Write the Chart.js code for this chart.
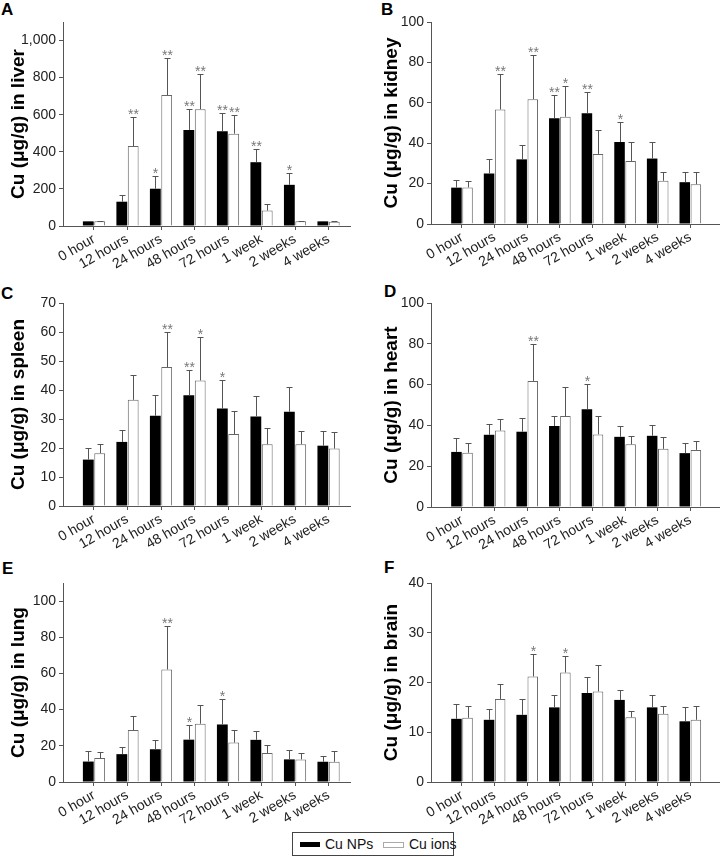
<!DOCTYPE html>
<html>
<head>
<meta charset="utf-8">
<script src="https://cdn.jsdelivr.net/npm/chart.js@4.4.1/dist/chart.umd.min.js"></script>
<style>
  body { margin: 0; width: 720px; height: 857px; position: relative; overflow: hidden; background: #fff;
         font-family: "Liberation Sans", Arial, sans-serif; }
  canvas { position: absolute; }
  .tag { position: absolute; font-weight: bold; font-size: 17px; line-height: 17px; color: #000; }
  .legend { position: absolute; left: 292px; top: 832px; width: 160px; height: 22px; border: 1px solid #444; font-size: 14px; color: #111; }
  .legend span { position: absolute; white-space: nowrap; }
  .sw { height: 5px; top: 9px; width: 20px; }
</style>
</head>
<body>
<div class="tag" style="left:1px;top:1px">A</div>
<div class="tag" style="left:381px;top:1px">B</div>
<div class="tag" style="left:1px;top:285px">C</div>
<div class="tag" style="left:384px;top:283px">D</div>
<div class="tag" style="left:2px;top:560px">E</div>
<div class="tag" style="left:384px;top:559px">F</div>

<div class="legend">
  <span class="sw" style="left:7px;background:#000"></span>
  <span style="left:32px;top:3px">Cu NPs</span>
  <span class="sw" style="left:90px;background:#fff;border:1px solid #aaa;width:19px;height:4px"></span>
  <span style="left:116px;top:3px">Cu ions</span>
</div>

<script>
const timeLabels = ['0 hour', '12 hours', '24 hours', '48 hours', '72 hours', '1 week', '2 weeks', '4 weeks'];

// A - liver
const liverNp = [25, 131, 201, 518, 511, 344, 222, 25];
const liverNpErr = [4, 38, 69, 112, 100, 71, 63, 3];
const liverIon = [25, 431, 706, 630, 498, 83, 25, 23];
const liverIonErr = [3, 155, 199, 190, 98, 36, 3, 3];
const liverNpSig = ['', '', '*', '**', '**', '**', '*', ''];
const liverIonSig = ['', '**', '**', '**', '**', '', '', ''];
const liverTicks = [0, 200, 400, 600, 800, 1000];

// B - kidney
const kidneyNp = [18, 25, 32, 52.3, 54.8, 40.6, 32.4, 20.7];
const kidneyNpErr = [3.7, 7.2, 7, 11.7, 10.3, 10.1, 8.4, 5];
const kidneyIon = [18.1, 56.7, 61.8, 53.1, 34.7, 31.2, 21.4, 19.7];
const kidneyIonErr = [3.4, 17.8, 22.1, 15.2, 11.8, 9.6, 4.3, 6];
const kidneyNpSig = ['', '', '', '**', '**', '*', '', ''];
const kidneyIonSig = ['', '**', '**', '*', '', '', '', ''];
const kidneyTicks = [0, 20, 40, 60, 80, 100];

// C - spleen
const spleenNp = [16, 22.1, 31.1, 38.2, 33.6, 30.9, 32.5, 20.8];
const spleenNpErr = [3.9, 4.1, 7.1, 8.8, 9.8, 6.9, 8.4, 4.9];
const spleenIon = [18.2, 36.6, 47.9, 43.3, 24.8, 21.3, 21.3, 19.8];
const spleenIonErr = [3.2, 8.6, 12, 15, 8, 5.5, 4.4, 5.6];
const spleenNpSig = ['', '', '', '**', '*', '', '', ''];
const spleenIonSig = ['', '', '**', '*', '', '', '', ''];
const spleenTicks = [0, 10, 20, 30, 40, 50, 60, 70];

// D - heart
const heartNp = [27, 35.4, 36.9, 39.7, 47.9, 34.4, 34.9, 26.4];
const heartNpErr = [6.6, 5.1, 6.5, 4.9, 12.4, 5.1, 5.3, 5.2];
const heartIon = [26.6, 37.5, 61.8, 44.6, 35.6, 30.7, 28.5, 28];
const heartIonErr = [4.9, 5.8, 18.2, 14.4, 9, 4.1, 5.9, 4.3];
const heartNpSig = ['', '', '', '', '*', '', '', ''];
const heartIonSig = ['', '', '**', '', '', '', '', ''];
const heartTicks = [0, 20, 40, 60, 80, 100];

// E - lung
const lungNp = [11.3, 15.4, 18.1, 23.4, 31.8, 23.3, 12.5, 11.2];
const lungNpErr = [5.9, 3.8, 5.3, 7.9, 13.9, 5, 5.3, 2.9];
const lungIon = [13.2, 28.7, 62.2, 32.2, 21.8, 16, 12.5, 11.2];
const lungIonErr = [3.3, 8, 24.3, 10.6, 6.7, 4.7, 3.5, 6];
const lungNpSig = ['', '', '', '*', '*', '', '', ''];
const lungIonSig = ['', '', '**', '', '', '', '', ''];
const lungTicks = [0, 20, 40, 60, 80, 100];

// F - brain
const brainNp = [12.7, 12.5, 13.5, 15, 17.9, 16.5, 15, 12.2];
const brainNpErr = [3, 2.2, 3.2, 2.4, 3.3, 1.9, 2.4, 2.8];
const brainIon = [12.9, 16.7, 21.2, 22, 18.2, 13, 13.7, 12.5];
const brainIonErr = [2.3, 2.9, 4.5, 3.3, 5.3, 1.3, 1.5, 2.7];
const brainNpSig = ['', '', '', '', '', '', '', ''];
const brainIonSig = ['', '', '*', '*', '', '', '', ''];
const brainTicks = [0, 10, 20, 30, 40];

const panels = [
  { title: 'Cu (μg/g) in liver', np: liverNp, npErr: liverNpErr, ion: liverIon, ionErr: liverIonErr, npSig: liverNpSig, ionSig: liverIonSig, ticks: liverTicks, yMax: 1100,
    left: 0, top: 0, plot: { left: 63, top: 22, right: 350, bottom: 226 }, xMin: -0.925, xMax: 7.64, titlePad: 7 },
  { title: 'Cu (μg/g) in kidney', np: kidneyNp, npErr: kidneyNpErr, ion: kidneyIon, ionErr: kidneyIonErr, npSig: kidneyNpSig, ionSig: kidneyIonSig, ticks: kidneyTicks, yMax: 100,
    left: 360, top: 0, plot: { left: 431, top: 22, right: 720, bottom: 224 }, xMin: -0.95, xMax: 7.91, titlePad: 20 },
  { title: 'Cu (μg/g) in spleen', np: spleenNp, npErr: spleenNpErr, ion: spleenIon, ionErr: spleenIonErr, npSig: spleenNpSig, ionSig: spleenIonSig, ticks: spleenTicks, yMax: 70,
    left: 0, top: 280, plot: { left: 63, top: 303, right: 350, bottom: 506 }, xMin: -0.925, xMax: 7.64, titlePad: 7 },
  { title: 'Cu (μg/g) in heart', np: heartNp, npErr: heartNpErr, ion: heartIon, ionErr: heartIonErr, npSig: heartNpSig, ionSig: heartIonSig, ticks: heartTicks, yMax: 100,
    left: 360, top: 280, plot: { left: 431, top: 303, right: 720, bottom: 507 }, xMin: -0.95, xMax: 7.91, titlePad: 20 },
  { title: 'Cu (μg/g) in lung', np: lungNp, npErr: lungNpErr, ion: lungIon, ionErr: lungIonErr, npSig: lungNpSig, ionSig: lungIonSig, ticks: lungTicks, yMax: 110,
    left: 0, top: 560, plot: { left: 63, top: 583, right: 350, bottom: 782 }, xMin: -0.925, xMax: 7.64, titlePad: 7 },
  { title: 'Cu (μg/g) in brain', np: brainNp, npErr: brainNpErr, ion: brainIon, ionErr: brainIonErr, npSig: brainNpSig, ionSig: brainIonSig, ticks: brainTicks, yMax: 40,
    left: 360, top: 560, plot: { left: 431, top: 583, right: 720, bottom: 782 }, xMin: -0.95, xMax: 7.91, titlePad: 20 }
];

const FONT = '"Liberation Sans", Arial, sans-serif';
const W = 360, H = 300;

// one-sided error bars + significance stars
const errorBars = {
  id: 'errorBars',
  afterDatasetsDraw(chart) {
    const ctx = chart.ctx;
    const yScale = chart.scales.y;
    chart.data.datasets.forEach((ds, di) => {
      const meta = chart.getDatasetMeta(di);
      meta.data.forEach((bar, i) => {
        const x = Math.round(bar.x) + 0.5;
        const top = Math.round(yScale.getPixelForValue(ds.data[i].y + ds.errors[i])) + 0.5;
        ctx.save();
        ctx.strokeStyle = '#555';
        ctx.lineWidth = 1;
        ctx.beginPath();
        ctx.moveTo(x, bar.y);
        ctx.lineTo(x, top);
        ctx.moveTo(x - 3, top);
        ctx.lineTo(x + 3, top);
        ctx.stroke();
        if (ds.marks[i]) {
          ctx.fillStyle = '#777';
          ctx.font = '14px ' + FONT;
          ctx.textAlign = 'center';
          ctx.textBaseline = 'alphabetic';
          ctx.fillText(ds.marks[i], x, top + 1);
        }
        ctx.restore();
      });
    });
  }
};

panels.forEach(p => {
  const canvas = document.createElement('canvas');
  canvas.width = W;
  canvas.height = H;
  canvas.style.left = p.left + 'px';
  canvas.style.top = p.top + 'px';
  document.body.appendChild(canvas);

  const toPoints = arr => arr.map((v, i) => ({ x: i, y: v }));

  new Chart(canvas.getContext('2d'), {
    type: 'bar',
    data: {
      datasets: [
        { label: 'Cu NPs', data: toPoints(p.np), errors: p.npErr, marks: p.npSig,
          backgroundColor: '#000', borderColor: '#000', borderWidth: 0 },
        { label: 'Cu ions', data: toPoints(p.ion), errors: p.ionErr, marks: p.ionSig,
          backgroundColor: '#fff', borderColor: '#666', borderWidth: 1 }
      ]
    },
    options: {
      responsive: false,
      animation: false,
      devicePixelRatio: 1,
      categoryPercentage: 0.68,
      barPercentage: 0.95,
      layout: { padding: { top: p.plot.top - p.top, right: p.left + W - p.plot.right, left: 0, bottom: 0 } },
      plugins: { legend: { display: false }, tooltip: { enabled: false } },
      scales: {
        x: {
          type: 'linear',
          bounds: 'data',
          offset: false,
          min: p.xMin,
          max: p.xMax,
          afterBuildTicks: s => { s.ticks = timeLabels.map((_, i) => ({ value: i })); },
          afterFit: s => { s.height = p.top + H - p.plot.bottom; },
          border: { color: '#555', width: 1 },
          grid: { offset: false, drawOnChartArea: false, drawTicks: true, tickLength: 4, color: '#555' },
          ticks: {
            callback: v => timeLabels[v],
            minRotation: 30, maxRotation: 30, padding: 1,
            autoSkip: false,
            color: '#222', font: { family: FONT, size: 14 }
          }
        },
        y: {
          min: 0,
          max: p.yMax,
          afterBuildTicks: s => { s.ticks = p.ticks.map(v => ({ value: v })); },
          afterFit: s => { s.width = p.plot.left - p.left; },
          border: { color: '#555', width: 1 },
          grid: { drawOnChartArea: false, drawTicks: true, tickLength: 4, color: '#555' },
          ticks: {
            callback: v => v.toLocaleString('en-US'),
            padding: 3,
            color: '#222', font: { family: FONT, size: 14 }
          },
          title: {
            display: true,
            text: p.title,
            color: '#000',
            padding: { top: p.titlePad, bottom: 0 },
            font: { family: FONT, size: 19, weight: 'bold' }
          }
        }
      }
    },
    plugins: [errorBars]
  });
});
</script>
</body>
</html>
